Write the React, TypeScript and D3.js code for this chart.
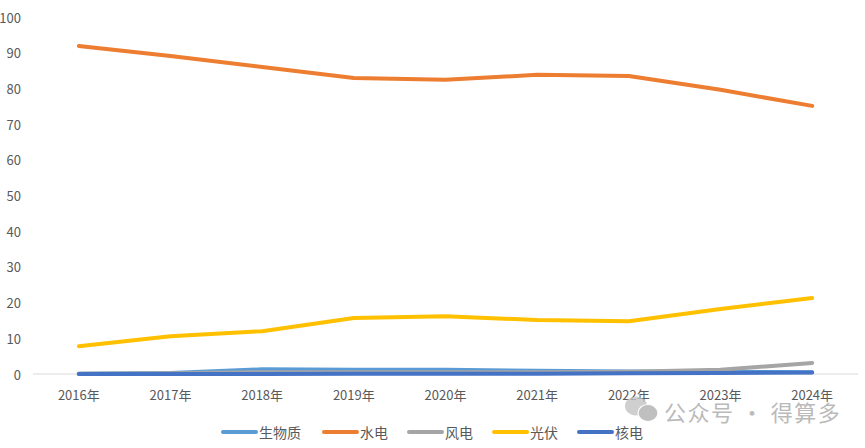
import * as d3 from 'd3';

const WIDTH = 865;
const HEIGHT = 448;
const MARGIN = { top: 17, right: 7, bottom: 74, left: 33 };

const years = ['2016年', '2017年', '2018年', '2019年', '2020年', '2021年', '2022年', '2023年', '2024年'];
const yTicks = [0, 10, 20, 30, 40, 50, 60, 70, 80, 90, 100];

const biomass = [0.1, 0.3, 1.3, 1.2, 1.2, 0.9, 0.7, 0.6, 0.5];
const hydro = [91.9, 89.1, 86.0, 82.9, 82.4, 83.8, 83.5, 79.6, 75.1];
const wind = [0.1, 0.2, 0.5, 0.5, 0.5, 0.5, 0.6, 1.2, 3.1];
const solar = [7.8, 10.6, 12.0, 15.7, 16.2, 15.1, 14.8, 18.2, 21.3];
const nuclear = [0.0, 0.0, 0.0, 0.1, 0.1, 0.1, 0.2, 0.3, 0.4];

const seriesNames = ['生物质', '水电', '风电', '光伏', '核电'];
const seriesColors = ['#5B9BD5', '#ED7D31', '#A5A5A5', '#FFC000', '#4472C4'];
const seriesValues = [biomass, hydro, wind, solar, nuclear];

const FONT = '"Noto Sans CJK SC", "Noto Sans", sans-serif';

export default function App() {
    const boundsWidth = WIDTH - MARGIN.left - MARGIN.right;
    const boundsHeight = HEIGHT - MARGIN.top - MARGIN.bottom;

    const xScale = d3.scaleBand().domain(years).range([0, boundsWidth]).padding(0);
    const yScale = d3.scaleLinear().domain([0, 100]).range([boundsHeight, 0]);

    const line = d3
        .line<number>()
        .x((_, i) => (xScale(years[i]) ?? 0) + xScale.bandwidth() / 2)
        .y((d) => yScale(d));

    // legend layout: sample line then label, left to right
    const legendX = [221, 322, 407, 492, 577];

    return (
        <svg
            width={WIDTH}
            height={HEIGHT}
            style={{ position: 'absolute', left: 0, top: 0, background: '#fff' }}
        >
            <g transform={`translate(${MARGIN.left},${MARGIN.top})`}>
                {yTicks.map((t) => (
                    <text
                        key={t}
                        x={-12}
                        y={yScale(t)}
                        textAnchor="end"
                        dominantBaseline="central"
                        fontSize={13}
                        fontFamily={FONT}
                        fill="#595959"
                    >
                        {t}
                    </text>
                ))}
                <line x1={0} x2={boundsWidth} y1={yScale(0)} y2={yScale(0)} stroke="#d9d9d9" strokeWidth={1} />
                {years.map((y) => (
                    <text
                        key={y}
                        x={(xScale(y) ?? 0) + xScale.bandwidth() / 2}
                        y={boundsHeight + 20}
                        textAnchor="middle"
                        dominantBaseline="central"
                        fontSize={13}
                        fontFamily={FONT}
                        fill="#595959"
                    >
                        {y}
                    </text>
                ))}
                {seriesValues.map((vals, i) => (
                    <path
                        key={seriesNames[i]}
                        d={line(vals) ?? ''}
                        fill="none"
                        stroke={seriesColors[i]}
                        strokeWidth={4}
                        strokeLinecap="round"
                        strokeLinejoin="round"
                    />
                ))}
            </g>

            {/* watermark */}
            <g opacity={0.8}>
                <ellipse cx={636} cy={406} rx={11} ry={9.5} fill="#c4c4c4" />
                <ellipse cx={648} cy={413} rx={10} ry={8.5} fill="#b0b0b0" stroke="#fff" strokeWidth={1.2} />
                <text x={664} y={411} dominantBaseline="central" fontSize={22} letterSpacing={1.5} fontFamily={FONT} fill="#aaaaaa">
                    公众号 · 得算多
                </text>
            </g>

            {seriesNames.map((name, i) => (
                <g key={name} transform={`translate(${legendX[i]},432)`}>
                    <line x1={2} x2={35} y1={0} y2={0} stroke={seriesColors[i]} strokeWidth={4} strokeLinecap="round" />
                    <text x={38} y={0} dominantBaseline="central" fontSize={14} fontFamily={FONT} fill="#595959">
                        {name}
                    </text>
                </g>
            ))}
        </svg>
    );
}
